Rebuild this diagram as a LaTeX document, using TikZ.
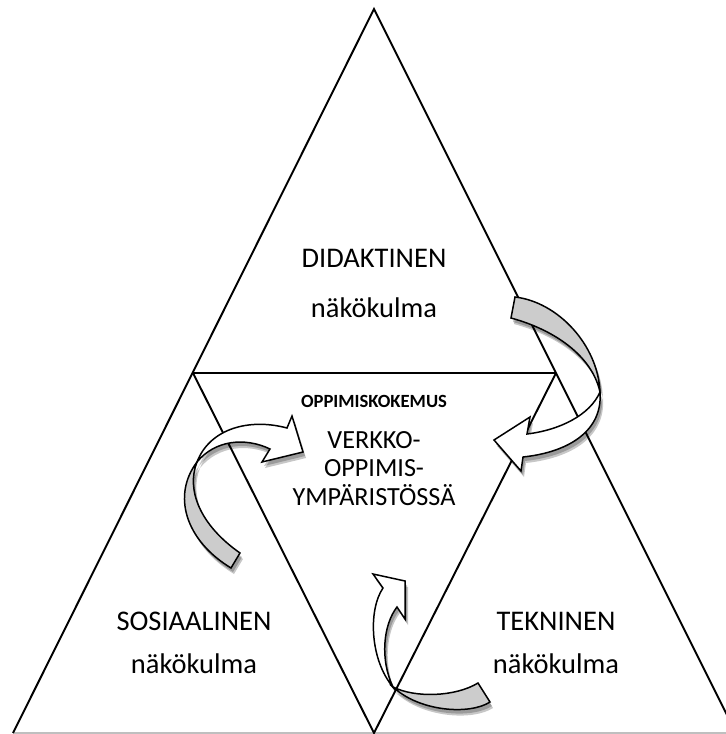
\documentclass[tikz,border=0pt]{standalone}
\usepackage{fontspec}
\setmainfont{Carlito}
\usetikzlibrary{calc}

% curved arrows: grey back part and white front part
\newcommand{\didtail}{(515,297) .. controls (558,302) and (598,345) .. (600,392) .. controls (592,356) and (555,330) .. (511,318) -- cycle}
\newcommand{\didfront}{(600,392) .. controls (603,430) and (570,452) .. (523,457) -- (521,471) -- (494,440) -- (530,417) -- (527,434) .. controls (560,430) and (590,415) .. (600,392) -- cycle}
\newcommand{\sostail}{(231,568) .. controls (185,540) and (172,495) .. (197,462) .. controls (186,490) and (200,525) .. (240,553) -- cycle}
\newcommand{\sosfront}{(197,462) .. controls (210,428) and (250,418) .. (287,428) -- (292,416) -- (303,452) -- (262,462) -- (270,449) .. controls (245,437) and (215,440) .. (197,462) -- cycle}
\newcommand{\tektail}{(478,683) .. controls (455,697) and (415,698) .. (393,687) .. controls (420,712) and (470,715) .. (490,702) -- cycle}
\newcommand{\tekfront}{(393,687) .. controls (370,660) and (368,610) .. (383,588) -- (373,574) -- (405,581) -- (405,619) -- (397,607) .. controls (383,625) and (380,660) .. (393,687) -- cycle}

\begin{document}
\begin{tikzpicture}[x=0.02cm, y=-0.02cm,
  edge/.style={line width=1.1pt, line join=miter},
  tailpart/.style={draw, line width=0.85pt, fill=gray!40},
  frontpart/.style={draw, line width=0.85pt, fill=white},
  arrshadow/.style={fill=black, opacity=0.22},
  corner/.style={align=center, font=\fontsize{16.2}{24.4}\selectfont}]
  \useasboundingbox (0,0) rectangle (726,734);

  \coordinate (top) at (374,9);
  \coordinate (midl) at (193,373);
  \coordinate (midr) at (556,373);
  \coordinate (botl) at (13,733);
  \coordinate (botm) at (374,733);
  \coordinate (botr) at (736,733);

  \draw[gray!50, line width=0.6pt] (botl) -- (botr);
  \draw[edge] (botl) -- (top) -- (botr);
  \draw[edge] (midl) -- (midr);
  \draw[edge] (midl) -- (botm) -- (midr);

  % anchor=base is the baseline of the last line
  \node[corner, anchor=base, font=\fontsize{16.2}{28.3}\selectfont] (did) at (374,317) {DIDAKTINEN\\näkökulma};
  \node[corner, anchor=base] (sos) at (194,673) {SOSIAALINEN\\näkökulma};
  \node[corner, anchor=base] (tek) at (556,673) {TEKNINEN\\näkökulma};
  \node[anchor=base, font=\fontsize{10.6}{12}\selectfont\bfseries] (koke) at (374,407) {OPPIMISKOKEMUS};
  \node[anchor=base, align=center, font=\fontsize{14.9}{16.2}\selectfont] (verkko) at (374,505) {VERKKO-\\OPPIMIS-\\YMPÄRISTÖSSÄ};

  \begin{scope}[shift={(2,4)}]
    \fill[arrshadow] \didtail \didfront;
    \fill[arrshadow] \sostail \sosfront;
    \fill[arrshadow] \tektail \tekfront;
  \end{scope}
  \begin{scope}[shift={(3,6)}]
    \fill[arrshadow] \didtail \didfront;
    \fill[arrshadow] \sostail \sosfront;
    \fill[arrshadow] \tektail \tekfront;
  \end{scope}

  \path[tailpart] \didtail;
  \path[frontpart] \didfront;
  \path[tailpart] \sostail;
  \path[frontpart] \sosfront;
  \path[tailpart] \tektail;
  \path[frontpart] \tekfront;
\end{tikzpicture}
\end{document}
